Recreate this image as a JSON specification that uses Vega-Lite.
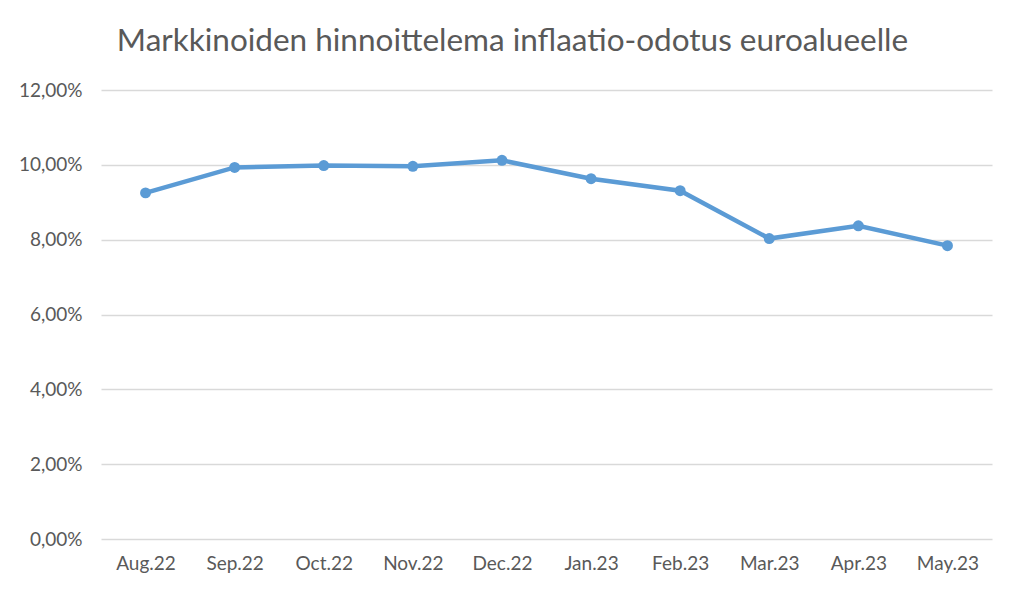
{
  "$schema": "https://vega.github.io/schema/vega-lite/v6.json",
  "autosize": {"type": "none"},
  "padding": {"left": 101, "top": 90, "right": 32, "bottom": 60},
  "width": 891,
  "height": 449,
  "background": "white",
  "config": {
    "locale": {"number": {"decimal": ",", "thousands": " ", "grouping": [3], "currency": ["", " €"]}},
    "view": {"stroke": null},
    "font": "Lato"
  },
  "title": {
    "text": "Markkinoiden hinnoittelema inflaatio-odotus euroalueelle",
    "fontSize": 31.5,
    "font": "Lato",
    "fontWeight": "normal",
    "color": "#595959",
    "anchor": "middle",
    "dx": -34,
    "offset": 24
  },
  "data": {
    "values": [
      {"month": "Aug.22", "value": 0.0925},
      {"month": "Sep.22", "value": 0.0993},
      {"month": "Oct.22", "value": 0.0998},
      {"month": "Nov.22", "value": 0.0996},
      {"month": "Dec.22", "value": 0.1012},
      {"month": "Jan.23", "value": 0.0963},
      {"month": "Feb.23", "value": 0.0931},
      {"month": "Mar.23", "value": 0.0803},
      {"month": "Apr.23", "value": 0.0837},
      {"month": "May.23", "value": 0.0784}
    ]
  },
  "encoding": {
    "x": {
      "field": "month", "type": "ordinal", "sort": null,
      "scale": {"type": "point", "padding": 0.5},
      "axis": {"title": null, "labelAngle": 0, "ticks": false, "domain": false, "labelFontSize": 19, "labelColor": "#595959", "labelPadding": 15, "grid": false}
    },
    "y": {
      "field": "value", "type": "quantitative",
      "scale": {"domain": [0, 0.12]},
      "axis": {"title": null, "format": ".2%", "values": [0, 0.02, 0.04, 0.06, 0.08, 0.1, 0.12], "ticks": false, "domain": false, "labelFontSize": 19, "labelColor": "#595959", "labelPadding": 19, "gridColor": "#d9d9d9", "gridWidth": 1.5}
    }
  },
  "layer": [
    {"mark": {"type": "line", "color": "#5B9BD5", "strokeWidth": 4.5}},
    {"mark": {"type": "point", "filled": true, "color": "#5B9BD5", "size": 120, "opacity": 1}}
  ]
}
